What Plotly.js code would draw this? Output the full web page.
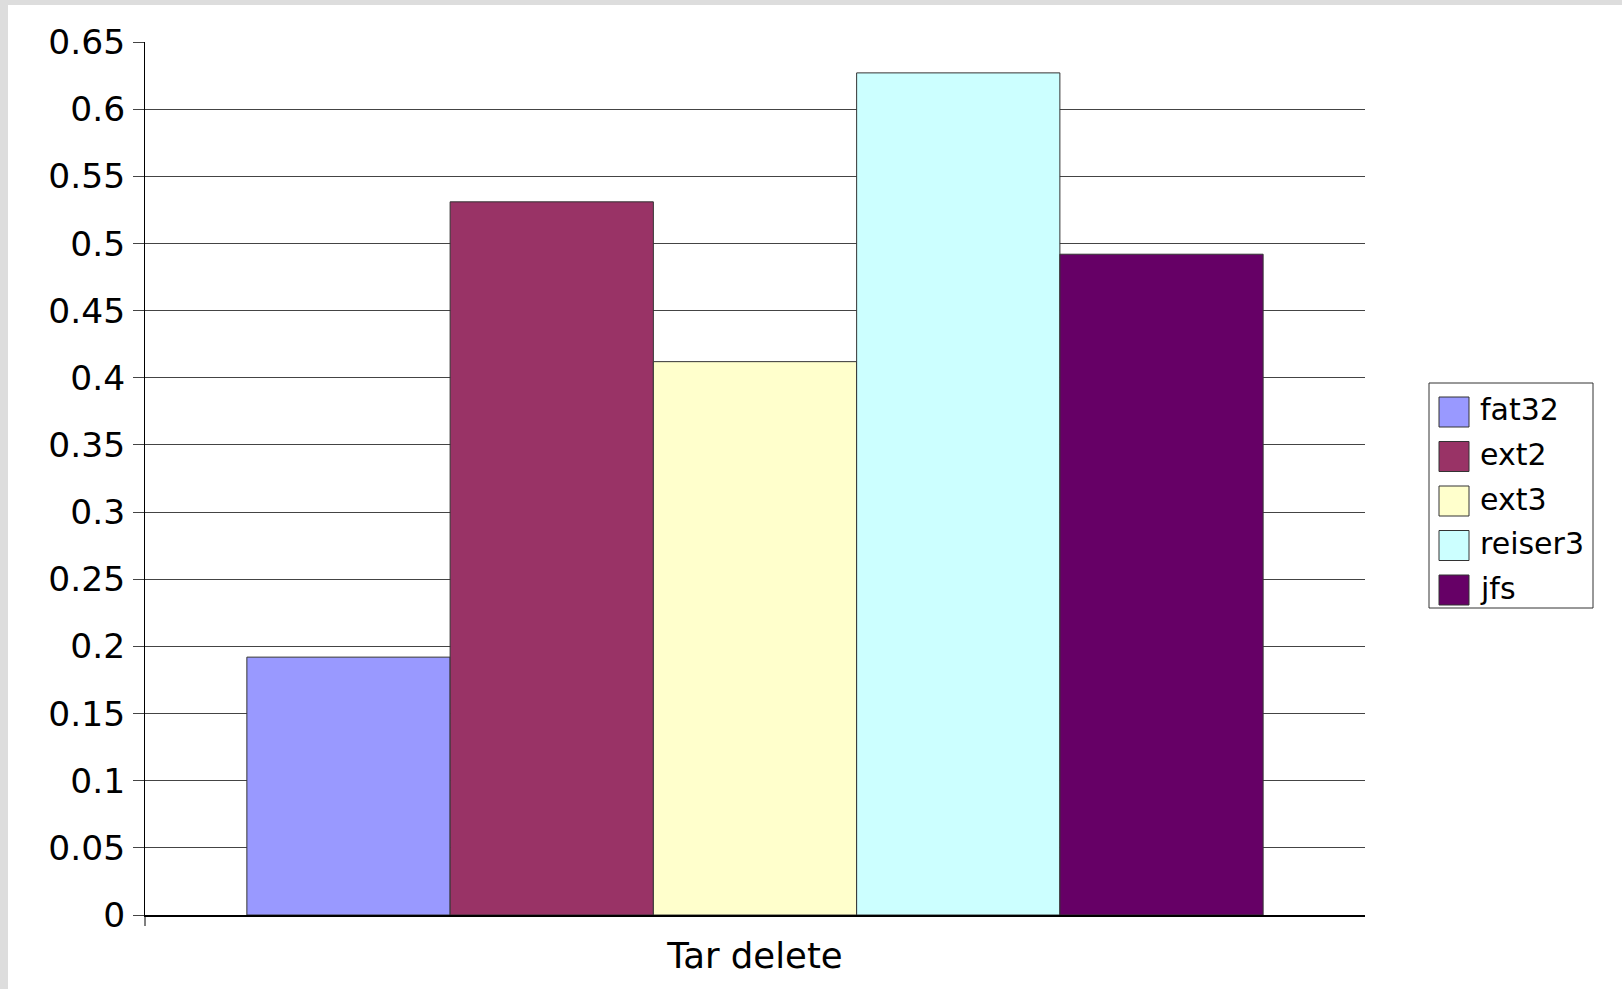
<!DOCTYPE html>
<html>
<head>
<meta charset="utf-8">
<script src="https://cdn.plot.ly/plotly-3.0.1.min.js"></script>
<style>
  html, body { margin: 0; padding: 0; background: #dddddd; overflow: hidden; }
  #chart { position: absolute; left: 8px; top: 5px; width: 1614px; height: 984px; background: #ffffff; }
</style>
</head>
<body>
<div id="chart"></div>
<script>
// Benchmark: time to delete an unpacked tar tree, per filesystem
const categories = ['Tar delete'];
const seriesNames = ['fat32', 'ext2', 'ext3', 'reiser3', 'jfs'];
const fat32 = [0.192];
const ext2 = [0.531];
const ext3 = [0.412];
const reiser3 = [0.627];
const jfs = [0.492];
const seriesValues = [fat32, ext2, ext3, reiser3, jfs];
const seriesColors = ['#9999ff', '#993366', '#ffffcc', '#ccffff', '#660066'];

const FONT = 'DejaVu Sans, Verdana, sans-serif';
const W = 1614, H = 984;
const M = { l: 137, r: 257, t: 37, b: 74 };
const plotW = W - M.l - M.r;
const plotH = H - M.t - M.b;
// pixel (inside the chart div) -> paper coordinates
const px = x => (x - M.l) / plotW;
const py = y => (H - M.b - y) / plotH;

const traces = seriesNames.map((name, i) => ({
  type: 'bar',
  name: name,
  x: categories,
  y: seriesValues[i],
  marker: { color: seriesColors[i], line: { color: '#333333', width: 1 } },
  hoverinfo: 'name+y'
}));

// Hand-drawn legend with large square swatches
const shapes = [];
const annotations = [];
const legBox = { x0: 1421, x1: 1585, y0: 378, y1: 603 };
shapes.push({
  type: 'rect', xref: 'paper', yref: 'paper',
  x0: px(legBox.x0), x1: px(legBox.x1), y0: py(legBox.y1), y1: py(legBox.y0),
  line: { color: '#333333', width: 1 }, fillcolor: '#ffffff', layer: 'above'
});
const rowTop = 407, rowStep = 44.5, sw = 30;
seriesNames.forEach((name, i) => {
  const cy = rowTop + i * rowStep;
  shapes.push({
    type: 'rect', xref: 'paper', yref: 'paper',
    x0: px(1431), x1: px(1431 + sw), y0: py(cy + sw / 2), y1: py(cy - sw / 2),
    line: { color: '#333333', width: 1 }, fillcolor: seriesColors[i], layer: 'above'
  });
  annotations.push({
    xref: 'paper', yref: 'paper', x: px(1470), y: py(cy - 2),
    xanchor: 'left', yanchor: 'middle', showarrow: false,
    text: name, font: { family: FONT, size: 30, color: '#000000' }
  });
});
// short tick below the axis corner
shapes.push({
  type: 'line', xref: 'paper', yref: 'paper',
  x0: 0, x1: 0, y0: 0, y1: -11 / plotH,
  line: { color: '#000000', width: 1 }
});

const layout = {
  width: W, height: H,
  margin: M,
  paper_bgcolor: '#ffffff',
  plot_bgcolor: '#ffffff',
  showlegend: false,
  barmode: 'group',
  bargap: 0.167,
  bargroupgap: 0,
  font: { family: FONT, color: '#000000' },
  xaxis: {
    type: 'category',
    showgrid: false,
    zeroline: false,
    showline: true,
    linecolor: '#000000',
    linewidth: 2,
    ticks: '',
    ticklabelstandoff: 8,
    tickfont: { family: FONT, size: 35.5, color: '#000000' }
  },
  yaxis: {
    range: [0, 0.65],
    dtick: 0.05,
    tick0: 0,
    showgrid: true,
    gridcolor: '#444444',
    gridwidth: 1,
    zeroline: false,
    showline: true,
    linecolor: '#000000',
    linewidth: 1,
    ticks: 'outside',
    ticklen: 11,
    tickcolor: '#444444',
    ticklabelstandoff: 1,
    tickfont: { family: FONT, size: 34.5, color: '#000000' }
  },
  shapes: shapes,
  annotations: annotations
};

Plotly.newPlot('chart', traces, layout, { displayModeBar: false, staticPlot: true });
</script>
</body>
</html>
